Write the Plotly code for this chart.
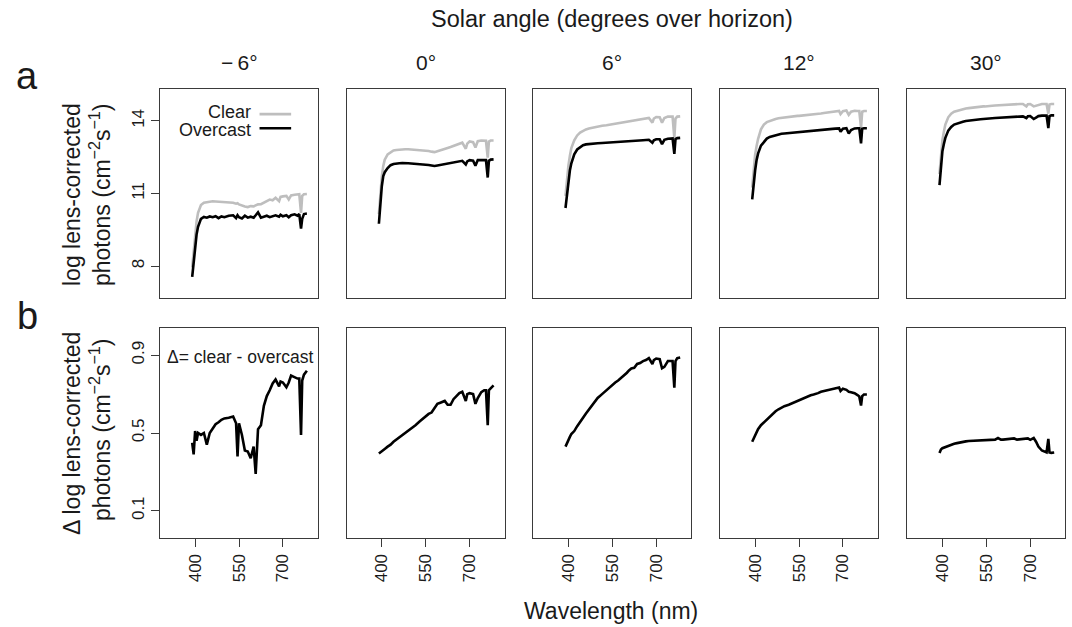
import plotly.graph_objects as go

# ---------------- data ----------------
wavelength_nm = [390, 395, 400, 405, 410, 420, 430, 440, 450, 460, 470, 480, 490, 500, 515,
                 530, 540, 545, 550, 560, 570, 580, 590, 600, 607, 615, 625, 635, 645, 655,
                 665, 675, 687, 692, 700, 712, 720, 728, 740, 750, 756, 762, 766, 772, 782]

solar_angles = ["\u2212\u20096°", "0°", "6°", "12°", "30°"]

clear_m6 = [7.95, 8.7, 9.35, 9.85, 10.2, 10.52, 10.62, 10.65, 10.67, 10.68, 10.67, 10.66, 10.65, 10.66, 10.63,
            10.62, 10.58, 10.6, 10.55, 10.5, 10.46, 10.44, 10.48, 10.47, 10.52, 10.55, 10.56, 10.62, 10.7, 10.75,
            10.72, 10.82, 10.68, 10.86, 10.88, 10.9, 10.75, 10.92, 10.95, 10.96, 10.97, 10.2, 10.9, 10.97, 10.98]
overcast_m6 = [7.55, 8.2, 8.8, 9.3, 9.62, 9.95, 10.03, 10.0, 10.05, 10.02, 10.06, 9.98, 10.05, 10.02, 10.08,
               10.1, 9.98, 10.1, 10.02, 9.97, 10.08, 10.0, 10.04, 10.0, 10.1, 10.22, 10.0, 10.05, 10.08, 10.02,
               10.06, 10.1, 10.04, 10.12, 10.06, 10.1, 10.02, 10.1, 10.14, 10.08, 10.15, 9.55, 9.95, 10.15, 10.17]
delta_m6 = [0.45, 0.39, 0.51, 0.46, 0.5, 0.49, 0.5, 0.44, 0.5, 0.52, 0.545, 0.555, 0.568, 0.575, 0.578,
            0.585, 0.55, 0.38, 0.55, 0.49, 0.41, 0.405, 0.37, 0.43, 0.29, 0.52, 0.54, 0.64, 0.69, 0.72,
            0.755, 0.775, 0.74, 0.765, 0.76, 0.735, 0.76, 0.795, 0.785, 0.78, 0.78, 0.49, 0.77, 0.8, 0.82]

clear_0 = [10.15, 11.0, 11.7, 12.14, 12.4, 12.62, 12.72, 12.78, 12.8, 12.82, 12.83, 12.83, 12.83, 12.82, 12.82,
           12.81, 12.8, 12.8, 12.79, 12.76, 12.73, 12.71, 12.75, 12.78, 12.82, 12.84, 12.88, 12.92, 12.96, 13.0,
           13.05, 13.1, 12.85, 13.06, 13.15, 13.12, 12.9, 13.16, 13.19, 13.19, 13.18, 12.48, 13.15, 13.19, 13.19]
overcast_0 = [9.75, 10.6, 11.3, 11.72, 11.88, 12.05, 12.17, 12.22, 12.25, 12.25, 12.26, 12.24, 12.25, 12.24, 12.23,
              12.22, 12.2, 12.21, 12.19, 12.18, 12.16, 12.14, 12.16, 12.18, 12.2, 12.21, 12.24, 12.26, 12.29, 12.32,
              12.33, 12.35, 12.2, 12.33, 12.38, 12.36, 12.15, 12.38, 12.38, 12.39, 12.38, 11.66, 12.35, 12.4, 12.41]
delta_0 = [0.395, 0.4, 0.405, 0.41, 0.418, 0.43, 0.44, 0.455, 0.466, 0.478, 0.49, 0.5, 0.512, 0.524, 0.54,
           0.56, 0.572, 0.578, 0.585, 0.598, 0.605, 0.63, 0.65, 0.656, 0.66, 0.665, 0.645, 0.645, 0.674, 0.69,
           0.705, 0.712, 0.665, 0.7, 0.705, 0.7, 0.65, 0.68, 0.71, 0.72, 0.72, 0.54, 0.72, 0.73, 0.745]

clear_6 = [10.9, 11.6, 12.15, 12.55, 12.88, 13.2, 13.4, 13.52, 13.59, 13.65, 13.69, 13.72, 13.75, 13.77, 13.8,
           13.82, 13.84, 13.85, 13.86, 13.88, 13.9, 13.91, 13.93, 13.95, 13.96, 13.97, 13.99, 14.01, 14.03, 14.06,
           14.09, 14.12, 13.93, 14.1, 14.16, 14.15, 13.93, 14.12, 14.18, 14.18, 14.18, 13.3, 14.1, 14.18, 14.19]
overcast_6 = [10.4, 11.0, 11.5, 11.95, 12.25, 12.62, 12.82, 12.93, 13.0, 13.03, 13.05, 13.07, 13.08, 13.08, 13.09,
              13.1, 13.1, 13.11, 13.11, 13.12, 13.12, 13.12, 13.13, 13.14, 13.15, 13.16, 13.17, 13.18, 13.19, 13.2,
              13.21, 13.22, 13.1, 13.2, 13.24, 13.24, 13.04, 13.22, 13.26, 13.27, 13.28, 12.64, 13.25, 13.29, 13.3]
delta_6 = [0.43, 0.45, 0.465, 0.48, 0.495, 0.51, 0.535, 0.56, 0.578, 0.6, 0.62, 0.645, 0.665, 0.68, 0.7,
           0.72, 0.735, 0.742, 0.75, 0.76, 0.77, 0.782, 0.795, 0.81, 0.822, 0.832, 0.835, 0.855, 0.86, 0.87,
           0.875, 0.885, 0.855, 0.875, 0.883, 0.88, 0.833, 0.84, 0.87, 0.872, 0.87, 0.733, 0.87, 0.885, 0.888]

clear_12 = [11.24, 12.0, 12.6, 12.95, 13.25, 13.65, 13.85, 13.95, 14.0, 14.04, 14.08, 14.11, 14.13, 14.14, 14.17,
            14.19, 14.2, 14.21, 14.21, 14.22, 14.24, 14.25, 14.26, 14.28, 14.28, 14.29, 14.31, 14.33, 14.35, 14.36,
            14.37, 14.39, 14.41, 14.28, 14.4, 14.43, 14.25, 14.38, 14.42, 14.41, 14.41, 13.72, 14.38, 14.41, 14.41]
overcast_12 = [10.76, 11.5, 11.95, 12.38, 12.65, 12.98, 13.15, 13.27, 13.34, 13.38, 13.42, 13.45, 13.47, 13.48, 13.5,
               13.52, 13.53, 13.54, 13.54, 13.55, 13.57, 13.58, 13.59, 13.6, 13.61, 13.62, 13.63, 13.64, 13.65, 13.66,
               13.67, 13.68, 13.69, 13.55, 13.68, 13.7, 13.48, 13.62, 13.69, 13.7, 13.7, 13.07, 13.68, 13.7, 13.7]
delta_12 = [0.455, 0.47, 0.49, 0.505, 0.52, 0.54, 0.555, 0.57, 0.585, 0.6, 0.612, 0.622, 0.63, 0.638, 0.645,
            0.655, 0.663, 0.667, 0.67, 0.676, 0.683, 0.688, 0.694, 0.698, 0.7, 0.705, 0.712, 0.716, 0.72, 0.724,
            0.728, 0.732, 0.734, 0.716, 0.728, 0.722, 0.712, 0.71, 0.705, 0.695, 0.688, 0.641, 0.69, 0.698, 0.698]

clear_30 = [11.8, 12.65, 13.2, 13.55, 13.85, 14.15, 14.3, 14.38, 14.42, 14.46, 14.49, 14.51, 14.53, 14.55, 14.57,
            14.59, 14.6, 14.6, 14.61, 14.62, 14.63, 14.64, 14.65, 14.65, 14.66, 14.67, 14.67, 14.68, 14.69, 14.69,
            14.7, 14.7, 14.6, 14.69, 14.7, 14.6, 14.63, 14.68, 14.7, 14.7, 14.7, 14.3, 14.68, 14.7, 14.7]
overcast_30 = [11.35, 12.2, 12.75, 13.05, 13.3, 13.6, 13.75, 13.85, 13.9, 13.94, 13.97, 14.0, 14.02, 14.03, 14.05,
               14.07, 14.08, 14.08, 14.09, 14.1, 14.11, 14.12, 14.13, 14.14, 14.14, 14.15, 14.16, 14.16, 14.17, 14.18,
               14.18, 14.19, 14.12, 14.19, 14.2, 14.08, 14.14, 14.2, 14.22, 14.22, 14.22, 13.7, 14.2, 14.23, 14.23]
delta_30 = [0.397, 0.415, 0.422, 0.425, 0.43, 0.435, 0.44, 0.445, 0.448, 0.452, 0.455, 0.457, 0.459, 0.46, 0.46,
            0.462, 0.462, 0.461, 0.462, 0.464, 0.465, 0.466, 0.474, 0.466, 0.466, 0.467, 0.47, 0.468, 0.472, 0.466,
            0.468, 0.467, 0.47, 0.472, 0.465, 0.474, 0.455, 0.43, 0.41, 0.405, 0.4, 0.47, 0.4, 0.398, 0.4]

clear_series = [clear_m6, clear_0, clear_6, clear_12, clear_30]
overcast_series = [overcast_m6, overcast_0, overcast_6, overcast_12, overcast_30]
delta_series = [delta_m6, delta_0, delta_6, delta_12, delta_30]

top_ticks = [8, 11, 14]
bottom_ticks = [0.1, 0.5, 0.9]
x_ticks = [400, 550, 700]

# ---------------- layout geometry ----------------
W, H = 1072, 627
FONT = "Liberation Sans, Arial, Helvetica, sans-serif"
INK = "#1a1a1a"
BOX = "#3a3a3a"
GREY = "#bebebe"
panel_left = [160, 346.7, 533.3, 720, 907.3]
panel_w = 158
top_px = (89, 298)
bot_px = (328, 538)


def px_x(p):
    return p / W


def px_y(p):
    return 1 - p / H


fig = go.Figure()
layout = dict(
    width=W, height=H, autosize=False,
    margin=dict(l=0, r=0, t=0, b=0),
    paper_bgcolor="white", plot_bgcolor="white",
    showlegend=False,
    font=dict(family=FONT, color=INK),
)

axis_common = dict(showline=True, mirror=True, linecolor=BOX, linewidth=1.3,
                   showgrid=False, zeroline=False, fixedrange=True)

for i in range(5):
    xd = [px_x(panel_left[i]), px_x(panel_left[i] + panel_w)]
    for row in range(2):
        k = i + 1 + 5 * row
        xa = "xaxis" if k == 1 else f"xaxis{k}"
        ya = "yaxis" if k == 1 else f"yaxis{k}"
        xr = "x" if k == 1 else f"x{k}"
        yr = "y" if k == 1 else f"y{k}"
        rows_px = top_px if row == 0 else bot_px
        yd = [px_y(rows_px[1]), px_y(rows_px[0])]
        xaxis = dict(axis_common, domain=xd, anchor=yr, range=[280, 820])
        if row == 0:
            xaxis.update(showticklabels=False, ticks="")
        else:
            xaxis.update(tickmode="array", tickvals=x_ticks, ticks="outside", ticklen=8,
                         tickwidth=1.1, tickcolor=BOX, tickangle=-90,
                         tickfont=dict(size=17, family=FONT, color=INK))
        yaxis = dict(axis_common, domain=yd, anchor=xr)
        if row == 0:
            yaxis.update(range=[6.68, 15.32])
        else:
            yaxis.update(range=[-0.04, 1.04])
        if i == 0:
            yaxis.update(tickmode="array", tickvals=top_ticks if row == 0 else bottom_ticks,
                         ticks="outside", ticklen=8, tickwidth=1.1, tickcolor=BOX, tickangle=-90,
                         tickfont=dict(size=17, family=FONT, color=INK))
        else:
            yaxis.update(showticklabels=False, ticks="")
        layout[xa] = xaxis
        layout[ya] = yaxis

        if row == 0:
            fig.add_trace(go.Scatter(x=wavelength_nm, y=clear_series[i], mode="lines",
                                     line=dict(color=GREY, width=2.6), xaxis=xr, yaxis=yr,
                                     name="Clear"))
            fig.add_trace(go.Scatter(x=wavelength_nm, y=overcast_series[i], mode="lines",
                                     line=dict(color="black", width=2.6), xaxis=xr, yaxis=yr,
                                     name="Overcast"))
        else:
            fig.add_trace(go.Scatter(x=wavelength_nm, y=delta_series[i], mode="lines",
                                     line=dict(color="black", width=2.6), xaxis=xr, yaxis=yr,
                                     name="Δ"))

annotations = []


def ann(text, x, y, size, angle=0, xanchor="center", yanchor="middle", xref="paper", yref="paper"):
    annotations.append(dict(text=text, x=x, y=y, xref=xref, yref=yref, showarrow=False,
                            textangle=angle, xanchor=xanchor, yanchor=yanchor,
                            font=dict(size=size, family=FONT, color=INK)))


ann("Solar angle (degrees over horizon)", px_x(612), px_y(19), 23.5)
for i, lab in enumerate(solar_angles):
    ann(lab, px_x(panel_left[i] + panel_w / 2), px_y(62), 21)
ann("a", px_x(27), px_y(76), 38)
ann("b", px_x(27), px_y(316), 38)
ann("log lens-corrected", px_x(72), px_y(195), 23, angle=-90)
ann("photons (cm<sup>\u22122</sup>s<sup>\u22121</sup>)", px_x(100), px_y(195), 23, angle=-90)
ann("\u0394 log lens-corrected", px_x(72), px_y(434), 23, angle=-90)
ann("photons (cm<sup>\u22122</sup>s<sup>\u22121</sup>)", px_x(100), px_y(430), 23, angle=-90)
ann("Wavelength (nm)", px_x(611), px_y(611), 23)

# legend inside first panel
ann("Clear", 0.59, 0.89, 18, xanchor="right", xref="x domain", yref="y domain")
ann("Overcast", 0.59, 0.805, 18, xanchor="right", xref="x domain", yref="y domain")
ann("\u0394= clear - overcast", 0.51, 0.862, 17.5, xref="x6 domain", yref="y6 domain")

shapes = [
    dict(type="line", xref="x domain", yref="y domain", x0=0.63, x1=0.83, y0=0.88, y1=0.88,
         line=dict(color=GREY, width=2.6)),
    dict(type="line", xref="x domain", yref="y domain", x0=0.63, x1=0.83, y0=0.812, y1=0.812,
         line=dict(color="black", width=2.6)),
]

layout["annotations"] = annotations
layout["shapes"] = shapes
fig.update_layout(**layout)
fig.write_html("out.html", config={"displayModeBar": False})

# remove the browser's default 8px body margin so the figure fills the window exactly
with open("out.html", "r", encoding="utf-8") as fh:
    html = fh.read()
html = html.replace("<body>", '<body style="margin:0;padding:0;overflow:hidden">', 1)
with open("out.html", "w", encoding="utf-8") as fh:
    fh.write(html)
